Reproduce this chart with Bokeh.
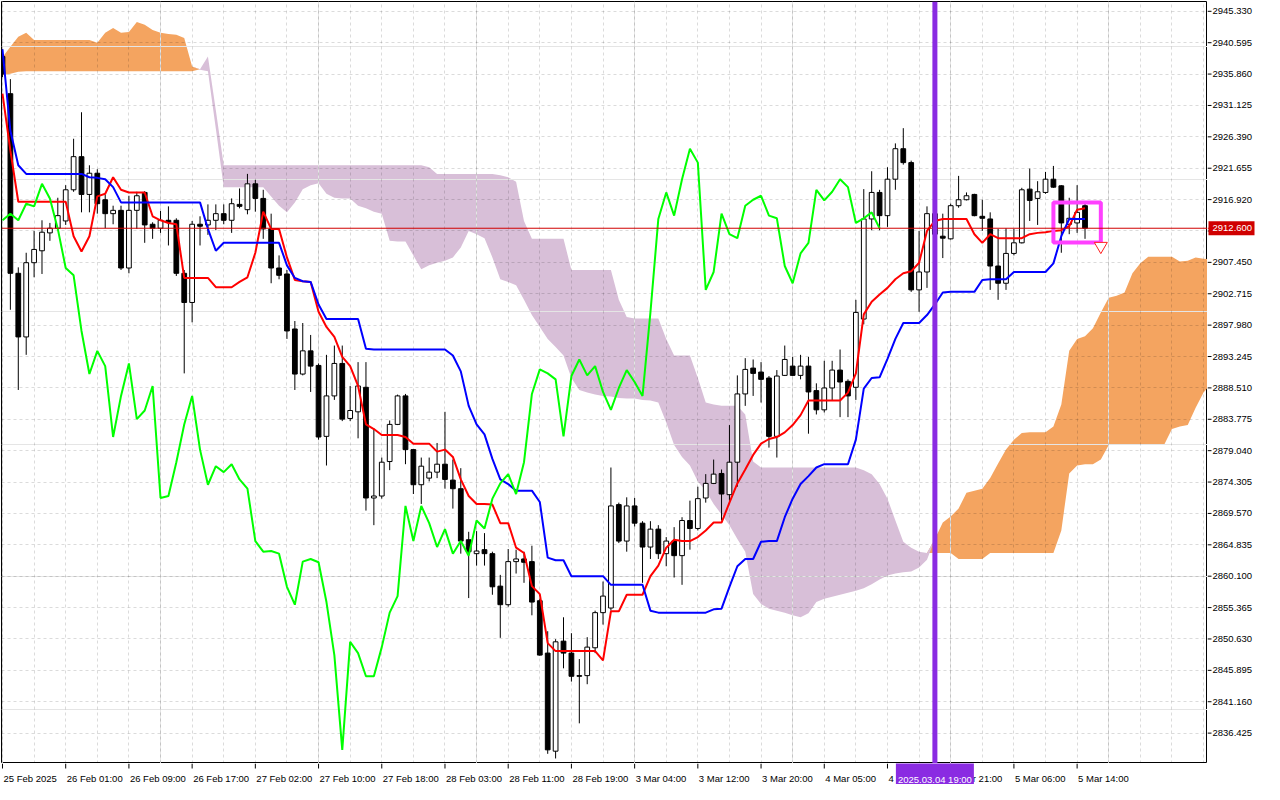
import numpy as np
from bokeh.plotting import figure
from bokeh.models import Range1d, FixedTicker, Span, Grid
from bokeh.layouts import column, row
from bokeh.core.properties import value
from bokeh.embed import file_html
from bokeh.resources import INLINE

# ---------------- data (XAUUSD H1) ----------------
opens = [2938.5, 2932.9, 2905.8, 2896.2, 2907.4, 2909.2, 2911.9, 2912.6, 2913.7, 2918.4,
         2923.4, 2917.7, 2920.9, 2916.9, 2914.8, 2915.3, 2906.6, 2915.3, 2918.0, 2913.2,
         2912.6, 2913.8, 2913.8, 2905.8, 2901.4, 2913.2, 2913.1, 2913.8, 2914.8, 2913.8,
         2916.2, 2915.4, 2919.3, 2917.1, 2912.5, 2906.6, 2905.7, 2897.4, 2890.6, 2894.1,
         2891.9, 2881.2, 2887.3, 2892.2, 2883.9, 2884.9, 2888.6, 2871.9, 2872.2, 2877.4,
         2883.0, 2887.3, 2879.2, 2873.9, 2874.9, 2875.8, 2877.0, 2874.6, 2873.3, 2865.6,
         2863.5, 2864.1, 2863.5, 2858.6, 2855.8, 2862.3, 2862.7, 2862.3, 2856.4, 2848.5,
         2833.7, 2850.3, 2848.5, 2845.1, 2845.1, 2849.3, 2854.6, 2855.3, 2870.9, 2865.4,
         2870.7, 2868.1, 2864.5, 2867.2, 2863.5, 2865.4, 2863.2, 2868.5, 2867.3, 2871.9,
         2874.1, 2875.6, 2872.4, 2877.3, 2887.6, 2891.5, 2890.9, 2890.0, 2881.2, 2890.4,
         2891.8, 2890.4, 2891.8, 2888.1, 2885.2, 2888.5, 2891.2, 2889.5, 2888.6, 2898.9,
         2914.0, 2918.0, 2914.5, 2920.0, 2924.6, 2922.5, 2903.3, 2906.0, 2914.8, 2911.4,
         2911.0, 2916.0, 2916.9, 2917.7, 2914.4, 2914.0, 2906.9, 2904.3, 2908.8, 2910.4,
         2918.5, 2917.1, 2918.0, 2920.0, 2919.0, 2913.2, 2913.4, 2916.0]
highs = [2939.6, 2935.1, 2906.7, 2908.9, 2912.2, 2913.8, 2913.4, 2917.2, 2919.1, 2926.1,
         2930.1, 2922.1, 2921.5, 2917.7, 2916.0, 2916.0, 2917.5, 2918.1, 2918.2, 2913.5,
         2915.2, 2915.9, 2914.1, 2906.3, 2913.7, 2914.4, 2916.2, 2916.2, 2916.2, 2917.1,
         2918.6, 2920.8, 2919.9, 2918.4, 2914.8, 2908.5, 2906.3, 2898.6, 2898.3, 2896.5,
         2892.2, 2893.5, 2894.9, 2894.9, 2888.8, 2892.4, 2892.4, 2882.4, 2878.0, 2883.6,
         2887.5, 2887.6, 2879.3, 2878.0, 2878.0, 2880.2, 2884.9, 2877.7, 2876.4, 2866.8,
         2866.9, 2866.6, 2863.8, 2860.3, 2864.2, 2864.1, 2863.8, 2864.7, 2856.7, 2851.8,
         2850.6, 2853.9, 2851.5, 2847.6, 2850.9, 2854.9, 2859.3, 2876.5, 2871.2, 2872.0,
         2871.9, 2868.4, 2868.4, 2867.8, 2866.0, 2867.5, 2869.0, 2871.5, 2873.6, 2875.5,
         2877.7, 2876.2, 2882.9, 2890.4, 2893.0, 2892.8, 2892.4, 2890.3, 2891.2, 2894.9,
         2893.2, 2893.5, 2893.2, 2889.2, 2892.6, 2892.6, 2894.3, 2889.8, 2901.8, 2918.5,
         2921.2, 2918.4, 2921.8, 2925.4, 2927.7, 2922.8, 2912.2, 2915.9, 2916.6, 2914.8,
         2916.3, 2920.5, 2918.0, 2917.8, 2916.9, 2915.0, 2912.5, 2912.6, 2912.5, 2918.7,
         2921.6, 2919.7, 2921.1, 2922.0, 2919.1, 2917.2, 2919.1, 2916.3]
lows = [2935.4, 2900.3, 2888.2, 2893.5, 2905.2, 2905.7, 2910.7, 2912.3, 2913.1, 2918.1,
        2915.0, 2915.0, 2914.8, 2912.6, 2913.2, 2906.3, 2905.8, 2912.5, 2910.4, 2911.0,
        2911.9, 2910.0, 2905.4, 2890.7, 2898.4, 2910.0, 2911.6, 2912.3, 2913.2, 2911.9,
        2915.6, 2914.7, 2915.1, 2911.0, 2904.3, 2904.9, 2895.9, 2888.2, 2890.4, 2887.9,
        2880.7, 2876.8, 2886.7, 2883.5, 2883.5, 2880.9, 2870.0, 2867.8, 2871.8, 2876.1,
        2882.9, 2877.0, 2872.5, 2871.0, 2874.4, 2874.9, 2873.3, 2870.3, 2863.5, 2856.8,
        2861.7, 2861.7, 2857.3, 2850.8, 2855.5, 2860.5, 2859.1, 2854.2, 2848.1, 2833.3,
        2832.6, 2846.2, 2844.2, 2837.9, 2843.8, 2848.5, 2852.8, 2854.9, 2865.1, 2863.8,
        2867.6, 2859.1, 2862.7, 2862.7, 2861.6, 2859.9, 2858.8, 2864.1, 2867.0, 2871.2,
        2874.0, 2868.5, 2871.5, 2873.6, 2885.8, 2887.3, 2886.3, 2879.5, 2878.0, 2890.3,
        2890.3, 2889.8, 2881.6, 2884.5, 2884.8, 2886.6, 2884.1, 2884.1, 2886.7, 2898.1,
        2912.3, 2912.3, 2912.8, 2918.4, 2922.2, 2903.0, 2900.0, 2903.6, 2911.4, 2908.1,
        2910.9, 2915.7, 2916.8, 2914.4, 2912.2, 2903.3, 2901.8, 2903.3, 2908.5, 2910.3,
        2913.7, 2913.1, 2917.8, 2918.7, 2908.9, 2911.7, 2911.9, 2911.0]
closes = [2935.9, 2905.8, 2896.2, 2907.4, 2909.4, 2912.0, 2912.6, 2914.5, 2918.4, 2923.4,
          2917.7, 2920.9, 2916.3, 2914.8, 2915.3, 2906.6, 2915.3, 2917.5, 2913.1, 2912.6,
          2913.8, 2913.5, 2905.8, 2901.4, 2913.2, 2912.9, 2913.8, 2914.8, 2913.8, 2916.3,
          2915.9, 2919.3, 2917.1, 2912.5, 2906.6, 2905.5, 2897.1, 2890.6, 2894.1, 2891.8,
          2881.1, 2887.3, 2892.2, 2883.8, 2885.1, 2888.8, 2871.9, 2872.2, 2877.3, 2883.0,
          2887.3, 2879.2, 2873.9, 2876.7, 2875.8, 2877.0, 2874.7, 2873.3, 2865.4, 2863.8,
          2863.9, 2863.5, 2858.5, 2855.8, 2862.3, 2862.7, 2862.2, 2856.2, 2848.2, 2833.9,
          2850.2, 2848.5, 2845.0, 2845.0, 2849.4, 2854.6, 2857.1, 2870.7, 2865.4, 2870.7,
          2868.1, 2864.5, 2867.2, 2863.5, 2865.4, 2863.2, 2868.5, 2867.3, 2871.8, 2874.1,
          2875.5, 2872.5, 2877.3, 2887.6, 2891.3, 2890.7, 2889.8, 2881.2, 2890.3, 2892.8,
          2890.4, 2891.8, 2887.9, 2885.2, 2888.5, 2891.2, 2889.4, 2887.3, 2899.9, 2914.0,
          2918.0, 2914.5, 2920.0, 2924.6, 2922.5, 2903.3, 2906.0, 2914.8, 2911.7, 2911.1,
          2916.0, 2916.9, 2917.5, 2914.5, 2914.1, 2906.9, 2904.3, 2908.8, 2910.4, 2918.4,
          2916.8, 2918.1, 2920.0, 2918.8, 2913.4, 2914.1, 2915.0, 2912.6]
tenkan = [2932.9, 2924.3, 2916.6, 2916.6, 2916.6, 2916.6, 2916.6, 2916.6, 2916.6, 2911.4,
          2909.1, 2911.4, 2917.4, 2917.8, 2920.3, 2918.4, 2918.0, 2918.0, 2918.0, 2914.4,
          2913.8, 2913.4, 2913.2, 2905.1, 2905.1, 2905.1, 2905.1, 2903.7, 2903.7, 2903.7,
          2904.5, 2905.2, 2908.9, 2915.1, 2912.5, 2912.5, 2908.2, 2904.8, 2904.6, 2904.5,
          2900.0, 2897.7, 2896.2, 2893.2, 2891.8, 2888.8, 2883.0, 2882.3, 2881.4, 2881.4,
          2881.4, 2881.1, 2880.1, 2880.1, 2880.1, 2878.9, 2879.2, 2878.1, 2874.7, 2872.2,
          2871.0, 2871.0, 2870.9, 2868.1, 2868.1, 2864.4, 2863.6, 2858.6, 2857.4, 2850.0,
          2848.8, 2848.8, 2848.8, 2848.8, 2848.8, 2848.8, 2847.4, 2854.8, 2854.8, 2857.3,
          2857.3, 2857.3, 2860.1, 2861.7, 2864.4, 2865.6, 2865.4, 2865.4, 2866.0, 2867.0,
          2868.2, 2868.2, 2871.2, 2874.1, 2876.2, 2878.4, 2880.1, 2880.8, 2881.1, 2881.8,
          2882.9, 2884.4, 2886.6, 2886.6, 2886.6, 2886.6, 2886.6, 2887.8, 2890.7, 2899.6,
          2901.5, 2902.6, 2903.6, 2904.9, 2905.8, 2906.1, 2907.4, 2912.2, 2913.7, 2914.0,
          2914.0, 2914.0, 2914.0, 2911.7, 2910.4, 2911.7, 2911.1, 2911.1, 2911.1, 2911.1,
          2911.7, 2911.9, 2912.0, 2912.2, 2912.3, 2912.9, 2915.4, 2915.6]
kijun = [2939.6, 2927.3, 2922.1, 2920.8, 2920.8, 2920.8, 2920.8, 2920.8, 2920.8, 2920.8,
         2920.8, 2920.3, 2920.2, 2920.0, 2918.8, 2916.5, 2916.5, 2916.5, 2916.5, 2916.5,
         2916.5, 2916.5, 2916.5, 2916.5, 2916.5, 2916.5, 2912.5, 2909.2, 2910.4, 2910.4,
         2910.4, 2910.4, 2910.4, 2910.4, 2910.4, 2910.4, 2907.0, 2905.1, 2904.6, 2904.5,
         2901.1, 2898.9, 2898.9, 2898.9, 2898.9, 2898.9, 2894.4, 2894.3, 2894.3, 2894.3,
         2894.3, 2894.3, 2894.3, 2894.3, 2894.3, 2894.3, 2894.3, 2893.4, 2891.0, 2885.8,
         2883.0, 2881.5, 2877.8, 2874.7, 2874.0, 2873.0, 2873.0, 2873.0, 2871.3, 2862.9,
         2862.5, 2862.5, 2860.1, 2860.1, 2860.1, 2860.1, 2860.1, 2858.8, 2858.8, 2858.8,
         2858.8, 2858.8, 2854.9, 2854.6, 2854.6, 2854.6, 2854.6, 2854.6, 2854.6, 2854.6,
         2855.1, 2855.2, 2858.5, 2861.6, 2862.7, 2862.7, 2865.3, 2865.4, 2865.4, 2869.0,
         2871.8, 2874.0, 2875.2, 2876.5, 2877.0, 2877.0, 2877.0, 2877.0, 2880.7, 2888.4,
         2890.0, 2890.1, 2892.9, 2895.9, 2898.3, 2898.3, 2898.3, 2899.5, 2901.1, 2902.9,
         2903.0, 2903.0, 2903.0, 2903.0, 2904.8, 2904.9, 2904.9, 2904.9, 2906.0, 2906.0,
         2906.0, 2906.0, 2906.0, 2907.3, 2911.4, 2914.0, 2914.0, 2914.0]
span_a = [2938.4, 2940.0, 2941.5, 2942.1, 2941.0, 2941.0, 2941.0, 2941.0, 2941.0, 2941.0,
          2941.0, 2941.0, 2940.6, 2942.1, 2942.8, 2942.1, 2942.2, 2943.7, 2943.3, 2942.5,
          2942.1, 2941.9, 2941.8, 2941.3, 2937.0, 2936.5, 2936.3, 2927.6, 2918.8, 2918.8,
          2918.8, 2918.8, 2918.8, 2918.8, 2917.4, 2916.0, 2915.0, 2916.5, 2918.5, 2919.1,
          2919.4, 2917.8, 2917.2, 2917.1, 2917.1, 2916.0, 2915.6, 2915.1, 2914.8, 2910.7,
          2910.6, 2910.6, 2908.5, 2906.4, 2907.0, 2907.4, 2907.7, 2908.2, 2909.7, 2912.2,
          2911.7, 2911.1, 2908.2, 2904.9, 2904.5, 2904.0, 2901.8, 2899.5, 2897.7, 2895.9,
          2894.7, 2893.4, 2890.0, 2888.2, 2887.8, 2887.5, 2887.3, 2887.2, 2887.0, 2886.9,
          2886.9, 2886.7, 2886.6, 2886.3, 2883.3, 2879.9, 2878.1, 2876.8, 2874.4, 2873.0,
          2871.0, 2869.4, 2867.8, 2865.7, 2863.8, 2857.4, 2855.9, 2855.2, 2854.9, 2854.6,
          2854.2, 2853.9, 2854.5, 2856.2, 2856.7, 2857.0, 2857.3, 2857.6, 2857.9, 2858.3,
          2858.9, 2859.6, 2860.2, 2860.5, 2860.7, 2860.8, 2861.4, 2862.6, 2865.7, 2868.2,
          2869.1, 2870.3, 2872.7, 2873.0, 2873.3, 2874.9, 2877.1, 2879.2, 2880.7, 2881.7,
          2881.8, 2881.8, 2881.8, 2882.7, 2886.0, 2894.1, 2895.9, 2896.3, 2897.5, 2899.9,
          2902.1, 2902.4, 2902.9, 2905.8, 2907.3, 2908.3, 2908.3, 2908.3, 2908.3, 2907.6,
          2907.7, 2908.2, 2908.0, 2907.9]
span_b = [2935.7, 2935.9, 2936.2, 2936.3, 2936.3, 2936.3, 2936.3, 2936.3, 2936.3, 2936.3,
          2936.3, 2936.3, 2936.3, 2936.3, 2936.3, 2936.3, 2936.3, 2936.3, 2936.3, 2936.3,
          2936.3, 2936.3, 2936.3, 2936.3, 2936.3, 2936.6, 2938.5, 2930.4, 2922.1, 2922.1,
          2922.1, 2922.1, 2922.1, 2922.1, 2922.1, 2922.1, 2922.1, 2922.1, 2922.1, 2922.1,
          2922.1, 2922.1, 2922.1, 2922.1, 2922.1, 2922.1, 2922.1, 2922.1, 2922.1, 2922.1,
          2922.1, 2922.1, 2922.1, 2922.1, 2921.8, 2920.8, 2920.8, 2920.8, 2920.8, 2920.8,
          2920.8, 2920.8, 2920.8, 2920.6, 2920.3, 2919.6, 2913.7, 2911.0, 2911.0, 2911.0,
          2911.0, 2911.0, 2906.3, 2906.3, 2906.3, 2906.3, 2906.3, 2906.3, 2901.8, 2899.2,
          2899.0, 2899.0, 2899.0, 2899.0, 2895.9, 2893.4, 2893.4, 2893.4, 2890.0, 2886.3,
          2886.0, 2885.8, 2885.8, 2885.8, 2884.5, 2877.4, 2876.5, 2876.5, 2876.5, 2876.5,
          2876.5, 2876.5, 2876.5, 2876.5, 2876.5, 2876.5, 2876.5, 2876.5, 2876.5, 2876.1,
          2875.5, 2874.0, 2871.8, 2868.5, 2865.3, 2864.4, 2863.8, 2863.6, 2863.6, 2863.6,
          2863.6, 2862.7, 2862.7, 2862.7, 2862.7, 2863.6, 2863.6, 2863.6, 2863.6, 2863.6,
          2863.6, 2863.6, 2863.6, 2863.6, 2867.0, 2875.6, 2876.8, 2877.0, 2877.0, 2877.7,
          2879.9, 2879.9, 2879.9, 2879.9, 2879.9, 2879.9, 2879.9, 2879.9, 2882.3, 2882.7,
          2882.9, 2885.5, 2887.8, 2889.2]
chikou_shift = 26

x_tick_bars = [0, 8, 16, 24, 32, 40, 48, 56, 64, 72, 80, 88, 96, 104, 112, 120, 128, 136]
x_tick_labels = ["25 Feb 2025", "26 Feb 01:00", "26 Feb 09:00", "26 Feb 17:00", "27 Feb 02:00",
                 "27 Feb 10:00", "27 Feb 18:00", "28 Feb 03:00", "28 Feb 11:00", "28 Feb 19:00",
                 "3 Mar 04:00", "3 Mar 12:00", "3 Mar 20:00", "4 Mar 05:00", "4 Mar 13:00",
                 "4 Mar 21:00", "5 Mar 06:00", "5 Mar 14:00"]
y_ticks = [2836.425, 2841.160, 2845.895, 2850.630, 2855.365, 2860.100, 2864.835, 2869.570,
           2874.305, 2879.040, 2883.775, 2888.510, 2893.245, 2897.980, 2902.715, 2907.450,
           2912.185, 2916.920, 2921.655, 2926.390, 2931.125, 2935.860, 2940.595, 2945.330]

bid_price = 2912.6
vline_bar = 118
vline_text = "2025.03.04 19:00"
box_bar_left, box_bar_right = 133.0, 139.0
box_top, box_bottom = 2916.5, 2910.45
arrow_bar, arrow_price = 139.0, 2909.9

x_lo, x_hi = -0.125, 152.5
y_lo, y_hi = 2831.84, 2946.81

FONT = "Liberation Sans"
FS = "9.5px"
FW, FH = 1206, 762        # main frame size (px)
AXW, AXH = 56, 21         # right price-scale width, bottom time-scale height

# ---------------- main chart ----------------
p = figure(frame_width=FW, frame_height=FH,
           x_range=Range1d(x_lo, x_hi), y_range=Range1d(y_lo, y_hi),
           output_backend="svg", toolbar_location=None,
           x_axis_location=None, y_axis_location=None,
           min_border_left=1, min_border_top=1, min_border_right=0, min_border_bottom=0)
p.outline_line_color = "black"
p.outline_line_width = 1
p.background_fill_color = "white"
p.border_fill_color = "white"

# Ichimoku cloud
a = np.array(span_a)
b = np.array(span_b)
cx = np.arange(len(a))
upper = np.maximum(a, b)
p.varea(x=cx, y1=b, y2=upper, fill_color="#F4A460", level="image")
p.varea(x=cx, y1=a, y2=upper, fill_color="#D8BFD8", level="image")

# grid
gx = Grid(dimension=0, ticker=FixedTicker(ticks=list(range(0, 156, 4))))
gy = Grid(dimension=1, ticker=FixedTicker(ticks=y_ticks))
for g in (gx, gy):
    g.grid_line_color = "black"
    g.grid_line_alpha = 0.14
    g.grid_line_dash = "3 3"
    g.grid_line_width = 1
    p.add_layout(g)

# candles
o = np.array(opens); h = np.array(highs); l = np.array(lows); c = np.array(closes)
n = len(c)
idx = np.arange(n)
bull = c >= o
p.segment(x0=idx, y0=l, x1=idx, y1=h, line_color="black", line_width=1)
p.vbar(x=idx[bull], width=0.6, top=c[bull], bottom=o[bull],
       fill_color="white", line_color="black", line_width=1)
p.vbar(x=idx[~bull], width=0.6, top=o[~bull], bottom=c[~bull],
       fill_color="black", line_color="black", line_width=1)

# Ichimoku lines
p.line(idx, tenkan, line_color="#FF0000", line_width=2)
p.line(idx, kijun, line_color="#0000FF", line_width=2)
p.line(idx[:n - chikou_shift], c[chikou_shift:], line_color="#00FF00", line_width=2)

# bid line and vertical marker line
p.add_layout(Span(location=bid_price, dimension="width", line_color="#d00000", line_width=1))
p.add_layout(Span(location=vline_bar, dimension="height", line_color="#8A2BE2", line_width=5))

# rectangle object and arrow
p.quad(left=[box_bar_left], right=[box_bar_right], top=[box_top], bottom=[box_bottom],
       fill_alpha=0, line_color="#FF40FF", line_width=4)
p.scatter([arrow_bar], [arrow_price], marker="inverted_triangle", size=13,
          fill_color="white", line_color="#ff2020", line_width=1)

# ---------------- right price scale ----------------
pr = figure(frame_width=AXW, frame_height=FH,
            x_range=Range1d(0, AXW), y_range=p.y_range,
            output_backend="svg", toolbar_location=None,
            x_axis_location=None, y_axis_location=None,
            min_border_left=0, min_border_top=1, min_border_right=0, min_border_bottom=0)
pr.outline_line_color = None
pr.grid.visible = False
pr.segment(x0=[0] * len(y_ticks), y0=y_ticks, x1=[4] * len(y_ticks), y1=y_ticks,
           line_color="black", line_width=1)
pr.text(x=[5] * len(y_ticks), y=y_ticks, text=[f"{t:.3f}" for t in y_ticks],
        text_font=value(FONT), text_font_size=value(FS), text_color="black",
        text_align="left", text_baseline="middle")
pr.rect(x=[24], y=[bid_price], width=[46], height=[14], height_units="screen",
        fill_color="#d00000", line_color=None)
pr.segment(x0=[0], y0=[bid_price], x1=[2], y1=[bid_price], line_color="#d00000")
pr.text(x=[5], y=[bid_price], text=[f"{bid_price:.3f}"],
        text_font=value(FONT), text_font_size=value(FS), text_color="white",
        text_align="left", text_baseline="middle")

# ---------------- bottom time scale ----------------
pb = figure(frame_width=FW, frame_height=AXH,
            x_range=p.x_range, y_range=Range1d(0, AXH),
            output_backend="svg", toolbar_location=None,
            x_axis_location=None, y_axis_location=None,
            min_border_left=1, min_border_top=0, min_border_right=AXW, min_border_bottom=0)
pb.outline_line_color = None
pb.grid.visible = False
pb.segment(x0=x_tick_bars, y0=[AXH] * len(x_tick_bars), x1=x_tick_bars,
           y1=[AXH - 5] * len(x_tick_bars), line_color="black", line_width=1)
pb.text(x=x_tick_bars, y=[AXH - 9] * len(x_tick_bars), text=x_tick_labels, x_offset=1,
        text_font=value(FONT), text_font_size=value(FS), text_color="black",
        text_align="left", text_baseline="top")
pb.rect(x=[vline_bar], y=[AXH - 11], width=[78], height=[24], width_units="screen",
        fill_color="#8A2BE2", line_color=None)
pb.text(x=[vline_bar], y=[AXH - 10], text=[vline_text],
        text_font=value(FONT), text_font_size=value(FS), text_color="white",
        text_align="center", text_baseline="top")

layout = column(row(p, pr), pb)
open("out.html", "w").write(file_html(layout, INLINE))
